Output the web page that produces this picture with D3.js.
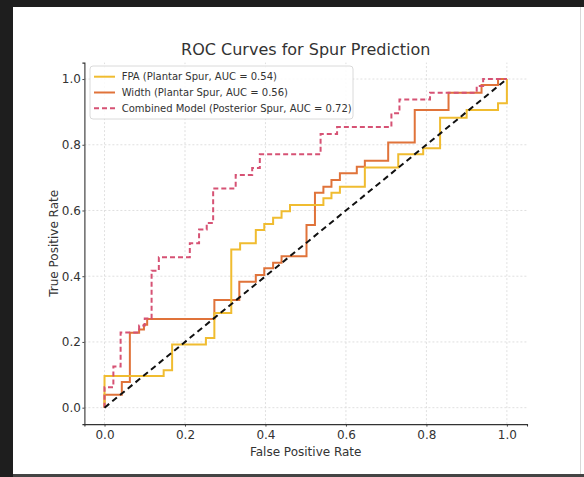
<!DOCTYPE html>
<html>
<head>
<meta charset="utf-8">
<script src="https://cdn.jsdelivr.net/npm/d3@7"></script>
<style>
  html, body { margin: 0; padding: 0; background: #1e1e1e; }
  svg { display: block; }
  text { font-family: "DejaVu Sans", sans-serif; }
</style>
</head>
<body>
<script>
// ---- data (ROC corner points: at each fpr the curve climbs to tpr) ----
const title = "ROC Curves for Spur Prediction";
const xLabel = "False Positive Rate";
const yLabel = "True Positive Rate";
const tickValues = [0.0, 0.2, 0.4, 0.6, 0.8, 1.0];

const fpaLabel = "FPA (Plantar Spur, AUC = 0.54)";
const fpaFpr = [0, 0, 0.147, 0.168, 0.252, 0.273, 0.315, 0.337, 0.376, 0.397, 0.419, 0.440, 0.461, 0.544, 0.564, 0.585, 0.647, 0.730, 0.792, 0.834, 0.900, 0.978, 1.0];
const fpaTpr = [0, 0.096, 0.114, 0.192, 0.212, 0.288, 0.481, 0.500, 0.541, 0.559, 0.578, 0.598, 0.617, 0.637, 0.654, 0.672, 0.731, 0.771, 0.789, 0.882, 0.906, 0.926, 1.0];

const widthLabel = "Width (Plantar Spur, AUC = 0.56)";
const widthFpr = [0, 0, 0.043, 0.063, 0.086, 0.098, 0.106, 0.273, 0.335, 0.376, 0.397, 0.419, 0.440, 0.502, 0.523, 0.544, 0.564, 0.585, 0.627, 0.647, 0.705, 0.771, 0.855, 0.937, 0.978, 1.0];
const widthTpr = [0, 0.039, 0.078, 0.228, 0.238, 0.252, 0.270, 0.328, 0.383, 0.404, 0.424, 0.441, 0.461, 0.556, 0.654, 0.672, 0.693, 0.713, 0.733, 0.751, 0.807, 0.906, 0.958, 0.982, 1.0, 1.0];

const combLabel = "Combined Model (Posterior Spur, AUC = 0.72)";
const combFpr = [0, 0, 0.022, 0.040, 0.086, 0.100, 0.117, 0.135, 0.212, 0.235, 0.254, 0.270, 0.326, 0.367, 0.386, 0.537, 0.578, 0.713, 0.733, 0.809, 0.925, 0.941, 1.0];
const combTpr = [0, 0.0625, 0.125, 0.229, 0.250, 0.271, 0.417, 0.458, 0.500, 0.542, 0.562, 0.667, 0.708, 0.729, 0.771, 0.833, 0.854, 0.896, 0.938, 0.958, 0.979, 1.0, 1.0];

const chanceFpr = [0, 1];
const chanceTpr = [0, 1];

// ---- drawing ----
const W = 584, H = 477;
const svg = d3.select("body").append("svg").attr("width", W).attr("height", H);

// frame / card
svg.append("rect").attr("x", 0).attr("y", 0).attr("width", W).attr("height", H).attr("fill", "#1e1e1e");
svg.append("rect").attr("x", 13).attr("y", 7).attr("width", W - 13).attr("height", 467).attr("fill", "#ffffff");
svg.append("line").attr("x1", 580.5).attr("x2", 580.5).attr("y1", 7).attr("y2", 474).attr("stroke", "#d8d8d8").attr("stroke-width", 1);
svg.append("rect").attr("x", 13).attr("y", 474).attr("width", W - 13).attr("height", 3).attr("fill", "#444");

const x = d3.scaleLinear().domain([-0.05, 1.05]).range([84.4, 527]);
const y = d3.scaleLinear().domain([-0.05, 1.05]).range([424.1, 62.6]);

// grid
const grid = svg.append("g");
tickValues.forEach(t => {
  grid.append("line").attr("x1", x(t)).attr("x2", x(t)).attr("y1", y(-0.05)).attr("y2", y(1.05))
    .attr("stroke", "#d8d8d8").attr("stroke-width", 0.8).attr("stroke-dasharray", "2,2");
  grid.append("line").attr("x1", x(-0.05)).attr("x2", x(1.05)).attr("y1", y(t)).attr("y2", y(t))
    .attr("stroke", "#d8d8d8").attr("stroke-width", 0.8).attr("stroke-dasharray", "2,2");
});

// axes
const fmt = d3.format(".1f");
const xAxis = svg.append("g").attr("transform", `translate(0,${y(-0.05)})`)
  .call(d3.axisBottom(x).tickValues(tickValues).tickFormat(fmt).tickSizeOuter(0).tickSize(2.5).tickPadding(3.5));
const yAxis = svg.append("g").attr("transform", `translate(${x(-0.05)},0)`)
  .call(d3.axisLeft(y).tickValues(tickValues).tickFormat(fmt).tickSizeOuter(0).tickSize(2).tickPadding(1.5));
[xAxis, yAxis].forEach(a => {
  a.select(".domain").attr("stroke", "#333").attr("stroke-width", 1.1);
  a.selectAll(".tick line").attr("stroke", "#333").attr("stroke-width", 0.9);
  a.selectAll(".tick text").attr("fill", "#333").style("font-size", "12px").style("font-family", "DejaVu Sans");
});

// curves
const line = d3.line().x(d => x(d[0])).y(d => y(d[1])).curve(d3.curveStepAfter);
const zip = (a, b) => a.map((v, i) => [v, b[i]]);

const plot = svg.append("g");
plot.append("path").datum(zip(widthFpr, widthTpr)).attr("d", line)
  .attr("fill", "none").attr("stroke", "#e0733a").attr("stroke-width", 2);
plot.append("path").datum(zip(fpaFpr, fpaTpr)).attr("d", line)
  .attr("fill", "none").attr("stroke", "#f0bc30").attr("stroke-width", 2);
plot.append("path").datum(zip(combFpr, combTpr)).attr("d", line)
  .attr("fill", "none").attr("stroke", "#d65274").attr("stroke-width", 2).attr("stroke-dasharray", "5,3");
plot.append("path").datum(zip(chanceFpr, chanceTpr)).attr("d", d3.line().x(d => x(d[0])).y(d => y(d[1])))
  .attr("fill", "none").attr("stroke", "#111").attr("stroke-width", 2).attr("stroke-dasharray", "6,4");

// title & labels
svg.append("text").attr("x", (x(-0.05) + x(1.05)) / 2).attr("y", 55).attr("text-anchor", "middle")
  .attr("fill", "#333").style("font-size", "16px").text(title);
svg.append("text").attr("x", (x(-0.05) + x(1.05)) / 2).attr("y", 456).attr("text-anchor", "middle")
  .attr("fill", "#333").style("font-size", "12px").text(xLabel);
svg.append("text").attr("transform", `translate(58,${(y(-0.05) + y(1.05)) / 2}) rotate(-90)`).attr("text-anchor", "middle")
  .attr("fill", "#333").style("font-size", "12px").text(yLabel);

// legend
const lg = svg.append("g");
lg.append("rect").attr("x", 90).attr("y", 66).attr("width", 263).attr("height", 53).attr("rx", 3)
  .attr("fill", "#fff").attr("fill-opacity", 0.85).attr("stroke", "#d0d0d0").attr("stroke-width", 0.8);
const entries = [
  { label: fpaLabel, color: "#f0bc30", dash: null },
  { label: widthLabel, color: "#e0733a", dash: null },
  { label: combLabel, color: "#d65274", dash: "5,3" }
];
entries.forEach((e, i) => {
  const yy = 76.7 + i * 15.8;
  lg.append("line").attr("x1", 94).attr("x2", 115).attr("y1", yy).attr("y2", yy)
    .attr("stroke", e.color).attr("stroke-width", 2).attr("stroke-dasharray", e.dash);
  lg.append("text").attr("x", 121.7).attr("y", yy).attr("dy", "0.35em")
    .attr("fill", "#333").style("font-size", "10px").text(e.label);
});
</script>
</body>
</html>
